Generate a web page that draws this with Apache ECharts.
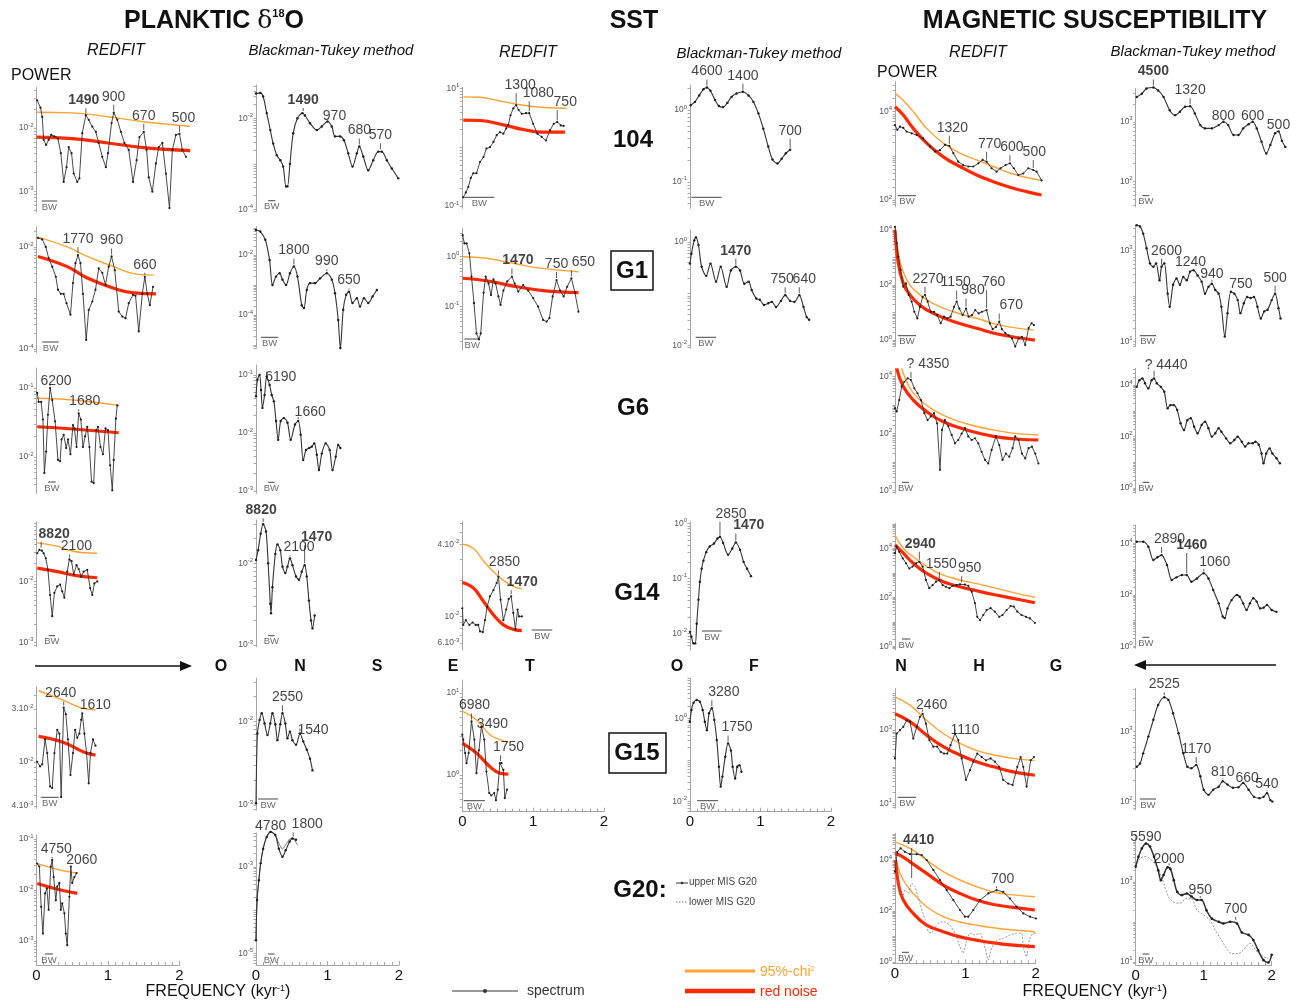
<!DOCTYPE html>
<html>
<head>
<meta charset="utf-8">
<script src="https://cdn.jsdelivr.net/npm/echarts@6/dist/echarts.min.js"></script>
<style>
html,body{margin:0;padding:0;background:#fff}
#chart{width:1308px;height:1001px}
</style>
</head>
<body>
<div id="chart"></div>
<script>
// ---------- spectra: [frequency (kyr^-1), power] ----------
// peaks: [frequency, power, period label, bold, tick length, label shift x, label shift y]
// ticks: labelled values on the power axis

// Planktic d18O, REDFIT
const pRf104 = {
  spec: [[0.01,2.75e-2],[0.056,2.1e-2],[0.08,1.5e-2],[0.10,6.5e-3],[0.135,5.4e-3],[0.17,6.5e-3],[0.205,7.8e-3],[0.25,7.4e-3],[0.30,6.8e-3],[0.34,4.0e-3],[0.38,1.4e-3],[0.42,2.4e-3],[0.45,5.0e-3],[0.49,4.0e-3],[0.52,1.9e-3],[0.57,1.4e-3],[0.60,1.6e-3],[0.64,8.3e-3],[0.69,1.6e-2],[0.73,1.35e-2],[0.78,1.05e-2],[0.83,8.7e-3],[0.87,5.8e-3],[0.92,3.5e-3],[0.97,2.4e-3],[1.00,4.0e-3],[1.05,1.2e-2],[1.08,1.75e-2],[1.13,1.35e-2],[1.18,8.7e-3],[1.23,5.8e-3],[1.29,4.5e-3],[1.35,1.4e-3],[1.40,3.1e-3],[1.44,7.2e-3],[1.50,8.7e-3],[1.54,4.5e-3],[1.57,1.65e-3],[1.62,9.8e-4],[1.67,2.75e-3],[1.71,5.0e-3],[1.76,5.8e-3],[1.81,1.9e-3],[1.86,5.4e-4],[1.90,4.5e-3],[1.95,7.8e-3],[2.00,8.1e-3],[2.04,4.5e-3],[2.09,3.5e-3]],
  chi: [[0,1.78e-2],[0.5,1.74e-2],[1,1.51e-2],[1.5,1.26e-2],[2.15,1.07e-2]],
  red: [[0,7.2e-3],[0.5,6.8e-3],[1,5.8e-3],[1.5,4.9e-3],[2.15,4.4e-3]],
  peaks: [[0.69,1.6e-2,'1490',1,5,-2],[1.08,1.75e-2,'900'],[1.50,8.7e-3,'670'],[2.00,8.1e-3,'500',0,6,4]],
  ticks: [1e-2,1e-3]
};
const pRfG1 = {
  spec: [[0.02,1.5e-2],[0.08,1.4e-2],[0.13,1.0e-2],[0.17,6.0e-3],[0.22,4.1e-3],[0.27,2.6e-3],[0.30,1.45e-3],[0.34,1.2e-3],[0.38,1.2e-3],[0.42,7.9e-4],[0.475,4.7e-4],[0.51,1.95e-3],[0.545,4.8e-3],[0.58,6.9e-3],[0.615,4.8e-3],[0.65,1.2e-3],[0.695,1.5e-4],[0.73,5.8e-4],[0.78,8.5e-4],[0.825,1.45e-3],[0.87,3.8e-3],[0.92,3.1e-3],[0.965,1.8e-3],[1.01,4.1e-3],[1.05,6.5e-3],[1.095,3.5e-3],[1.15,5.4e-4],[1.20,4.3e-4],[1.245,4.0e-4],[1.29,7.9e-4],[1.35,1.15e-3],[1.385,1.1e-3],[1.43,2.2e-4],[1.48,1.2e-3],[1.515,2.6e-3],[1.55,1.2e-3],[1.585,7.2e-4],[1.63,1.65e-3]],
  chi: [[0.02,1.55e-2],[0.43,1.0e-2],[0.71,6.5e-3],[1.08,4.1e-3],[1.36,3.0e-3],[1.64,2.8e-3]],
  red: [[0.02,6.5e-3],[0.43,4.1e-3],[0.71,2.45e-3],[1.08,1.55e-3],[1.36,1.25e-3],[1.67,1.2e-3]],
  peaks: [[0.58,6.9e-3,'1770'],[1.05,6.5e-3,'960'],[1.515,2.6e-3,'660',0,2]],
  ticks: [1e-2,1e-4]
};
const pRfG6 = {
  spec: [[0.01,8.5e-2],[0.03,6.3e-2],[0.065,6.3e-2],[0.09,3.5e-2],[0.11,5.9e-3],[0.135,1.2e-2],[0.16,4.1e-2],[0.19,1.0e-1],[0.22,6.7e-2],[0.26,3.3e-2],[0.30,9.1e-3],[0.33,8.7e-3],[0.35,1.8e-2],[0.38,2.1e-2],[0.415,1.35e-2],[0.44,1.8e-2],[0.475,1.1e-2],[0.51,2.9e-2],[0.53,2.6e-2],[0.56,1.4e-2],[0.59,4.3e-2],[0.62,3.5e-2],[0.65,1.4e-2],[0.68,2.0e-2],[0.71,2.75e-2],[0.74,1.4e-2],[0.77,4.4e-3],[0.80,4.2e-3],[0.835,2.45e-2],[0.86,2.75e-2],[0.895,1.4e-2],[0.93,1.1e-2],[0.965,2.6e-2],[1.00,2.45e-2],[1.03,7.6e-3],[1.06,3.3e-3],[1.08,9.1e-3],[1.11,3.6e-2],[1.13,5.6e-2]],
  chi: [[0.01,7.1e-2],[0.5,6.7e-2],[1.15,5.6e-2]],
  red: [[0.01,2.75e-2],[0.5,2.55e-2],[1.15,2.25e-2]],
  peaks: [[0.19,1.0e-1,'6200',0,2,6,5],[0.59,4.3e-2,'1680',0,2,6]],
  ticks: [1e-1,1e-2]
};
const pRfG14 = {
  spec: [[0.01,2.9e-2],[0.04,3.3e-2],[0.075,3.2e-2],[0.10,2.9e-2],[0.13,2.4e-2],[0.16,1.55e-2],[0.19,6.0e-3],[0.22,2.7e-3],[0.25,6.5e-3],[0.29,8.3e-3],[0.33,8.9e-3],[0.36,6.9e-3],[0.39,5.4e-3],[0.43,1.45e-2],[0.46,2.3e-2],[0.49,2.15e-2],[0.52,1.3e-2],[0.56,1.85e-2],[0.59,1.6e-2],[0.625,1.2e-2],[0.66,1.45e-2],[0.71,1.55e-2],[0.75,7.8e-3],[0.78,6.0e-3],[0.81,9.3e-3],[0.85,1.0e-2]],
  chi: [[0.01,4.3e-2],[0.29,3.8e-2],[0.43,3.3e-2],[0.66,2.95e-2],[0.85,2.9e-2]],
  red: [[0.01,1.65e-2],[0.29,1.45e-2],[0.56,1.25e-2],[0.85,1.15e-2]],
  peaks: [[0.065,3.3e-2,'8820',1,6,13],[0.46,2.3e-2,'2100',0,3,7]],
  ticks: [1e-1,1e-2,1e-3]
};
const pRfG15 = {
  spec: [[0.01,1.0e-2],[0.05,9.1e-3],[0.08,9.5e-3],[0.12,1.6e-2],[0.15,1.2e-2],[0.19,6.0e-3],[0.22,5.8e-3],[0.25,1.2e-2],[0.29,1.95e-2],[0.32,1.8e-2],[0.345,4.8e-3],[0.38,3.1e-2],[0.41,2.7e-2],[0.44,1.6e-2],[0.475,7.6e-3],[0.51,1.2e-2],[0.54,1.95e-2],[0.57,1.65e-2],[0.60,1.8e-2],[0.625,2.4e-2],[0.64,2.75e-2],[0.67,1.8e-2],[0.70,1.2e-2],[0.73,6.4e-3],[0.755,1.2e-2],[0.79,1.6e-2],[0.825,1.4e-2]],
  chi: [[0.03,4.4e-2],[0.38,3.6e-2],[0.615,3.1e-2],[0.825,2.95e-2]],
  red: [[0.03,1.7e-2],[0.38,1.5e-2],[0.66,1.23e-2],[0.825,1.15e-2]],
  peaks: [[0.38,3.1e-2,'2640',0,4,-3],[0.64,2.75e-2,'1610',0,0,13,2]],
  ticks: [5e-2,3e-2,1e-2,4e-3]
};
const pRfG20 = {
  spec: [[0.01,3.3e-2],[0.04,2.9e-2],[0.065,4.7e-3],[0.09,1.4e-3],[0.12,8.6e-3],[0.145,1.07e-2],[0.17,4.1e-3],[0.20,2.9e-2],[0.22,3.9e-2],[0.24,1.8e-2],[0.27,6.3e-3],[0.29,1.17e-2],[0.32,1.38e-2],[0.34,4.1e-3],[0.36,5.5e-3],[0.39,3.5e-3],[0.41,1.4e-3],[0.43,8.3e-4],[0.46,7.4e-3],[0.48,2.9e-2],[0.50,1.38e-2],[0.53,1.8e-2],[0.56,2.15e-2]],
  chi: [[0.01,3.3e-2],[0.34,2.45e-2],[0.57,2.15e-2]],
  red: [[0.01,1.35e-2],[0.34,1.0e-2],[0.57,8.6e-3]],
  peaks: [[0.22,3.9e-2,'4750',0,1,4],[0.48,2.9e-2,'2060',0,0,11,4]],
  ticks: [1e-1,1e-2,1e-3]
};

// Planktic d18O, Blackman-Tukey
const pBt104 = {
  spec: [[0,3.5e-2],[0.06,3.6e-2],[0.10,3.0e-2],[0.15,1.3e-2],[0.20,5.5e-3],[0.24,2.8e-3],[0.29,1.55e-3],[0.34,1.2e-3],[0.38,8.7e-4],[0.42,3.2e-4],[0.44,3.2e-4],[0.475,1.0e-3],[0.52,4.7e-3],[0.58,1.0e-2],[0.65,1.3e-2],[0.685,1.15e-2],[0.755,7.8e-3],[0.85,5.5e-3],[0.92,6.6e-3],[1.00,8.5e-3],[1.06,6.6e-3],[1.105,4.0e-3],[1.175,4.0e-3],[1.23,3.3e-3],[1.29,1.7e-3],[1.35,8.7e-4],[1.41,1.7e-3],[1.445,2.4e-3],[1.50,1.45e-3],[1.57,7.2e-4],[1.64,1.2e-3],[1.71,1.85e-3],[1.76,1.85e-3],[1.83,1.2e-3],[1.90,7.9e-4],[1.99,4.8e-4]],
  peaks: [[0.66,1.3e-2,'1490',1,3],[1.00,8.5e-3,'970',0,0,7,5],[1.445,2.4e-3,'680'],[1.74,1.9e-3,'570']],
  ticks: [1e-2,1e-4]
};
const pBtG1 = {
  spec: [[0,6.8e-2],[0.06,6.0e-2],[0.13,3.2e-2],[0.19,6.8e-3],[0.23,1.0e-3],[0.28,1.9e-3],[0.33,2.45e-3],[0.37,1.5e-3],[0.42,1.0e-3],[0.475,2.45e-3],[0.53,4.1e-3],[0.58,1.9e-3],[0.64,2.1e-4],[0.67,1.7e-4],[0.71,6.8e-4],[0.755,1.15e-3],[0.825,1.15e-3],[0.895,1.65e-3],[0.99,2.45e-3],[1.06,1.5e-3],[1.105,5.3e-4],[1.15,6.8e-5],[1.18,7.9e-6],[1.22,1.5e-4],[1.26,4.7e-4],[1.30,6.0e-4],[1.35,2.5e-4],[1.41,3.6e-4],[1.455,1.9e-4],[1.51,3.6e-4],[1.57,2.5e-4],[1.63,4.1e-4],[1.69,6.8e-4]],
  peaks: [[0.53,4.1e-3,'1800'],[0.99,2.45e-3,'990',0,2],[1.30,6.0e-4,'650',0,1]],
  ticks: [1e-2,1e-4]
};
const pBtG6 = {
  spec: [[0,4.3e-2],[0.02,8.2e-2],[0.05,1.0e-1],[0.07,5.5e-2],[0.09,2.7e-2],[0.12,4.5e-2],[0.15,9.3e-2],[0.19,6.7e-2],[0.22,4.5e-2],[0.25,3.5e-2],[0.28,1.6e-2],[0.31,7.6e-3],[0.345,1.6e-2],[0.39,1.8e-2],[0.44,1.5e-2],[0.485,7.6e-3],[0.545,1.4e-2],[0.59,1.6e-2],[0.625,9.3e-3],[0.66,3.4e-3],[0.70,5.1e-3],[0.745,5.5e-3],[0.78,5.8e-3],[0.815,6.6e-3],[0.85,4.2e-3],[0.88,2.3e-3],[0.92,4.4e-3],[0.975,6.6e-3],[1.03,5.1e-3],[1.07,2.3e-3],[1.115,3.9e-3],[1.15,6.2e-3],[1.18,5.5e-3]],
  peaks: [[0.15,9.3e-2,'6190',0,3,14,13],[0.59,1.6e-2,'1660',0,2,12,3]],
  ticks: [1e-1,1e-2,1e-3]
};
const pBtG14 = {
  spec: [[0,1.1e-2],[0.03,1.45e-2],[0.065,2.3e-2],[0.10,3.0e-2],[0.14,2.45e-2],[0.17,1.0e-2],[0.20,3.2e-3],[0.21,2.45e-3],[0.23,5.1e-3],[0.27,1.3e-2],[0.30,1.7e-2],[0.34,1.45e-2],[0.37,9.1e-3],[0.41,7.6e-3],[0.44,9.1e-3],[0.475,1.15e-2],[0.51,9.5e-3],[0.56,6.9e-3],[0.60,6.3e-3],[0.64,7.9e-3],[0.68,9.5e-3],[0.71,6.9e-3],[0.74,3.5e-3],[0.77,2.0e-3],[0.79,1.6e-3],[0.82,2.3e-3]],
  peaks: [[0.10,3.0e-2,'8820',1,4,-2],[0.475,1.15e-2,'2100',0,1,9],[0.68,9.5e-3,'1470',1,18,12]],
  ticks: [1e-2,1e-3]
};
const pBtG15 = {
  spec: [[0,1.05e-3],[0.02,7.2e-3],[0.05,1.05e-2],[0.08,1.26e-2],[0.12,9.5e-3],[0.16,6.9e-3],[0.20,9.5e-3],[0.23,1.26e-2],[0.27,9.3e-3],[0.30,6.0e-3],[0.34,9.3e-3],[0.37,1.26e-2],[0.41,9.5e-3],[0.44,6.3e-3],[0.475,7.6e-3],[0.51,6.0e-3],[0.56,5.3e-3],[0.615,7.2e-3],[0.66,5.8e-3],[0.71,4.6e-3],[0.755,3.6e-3],[0.79,2.6e-3]],
  peaks: [[0.37,1.26e-2,'2550',0,6,5],[0.615,7.2e-3,'1540',0,3,13,10]],
  ticks: [1e-2,1e-3]
};
const pBtG20 = {
  spec: [[0,2.0e-5],[0.015,1.7e-4],[0.04,4.9e-4],[0.065,1.2e-3],[0.10,2.6e-3],[0.15,4.9e-3],[0.205,6.4e-3],[0.27,5.4e-3],[0.32,2.6e-3],[0.37,1.7e-3],[0.415,2.4e-3],[0.47,3.8e-3],[0.51,4.5e-3],[0.56,4.2e-3]],
  lower: [[0,2.0e-5],[0.015,1.7e-4],[0.04,4.9e-4],[0.065,1.2e-3],[0.10,2.6e-3],[0.15,4.9e-3],[0.205,6.4e-3],[0.27,5.4e-3],[0.32,3.5e-3],[0.37,2.6e-3],[0.43,3.5e-3],[0.485,4.5e-3],[0.53,4.3e-3],[0.58,3.2e-3]],
  peaks: [[0.205,6.4e-3,'4780',0,0,0,4],[0.52,4.5e-3,'1800',0,4,14]],
  ticks: [1e-3,1e-5]
};

// SST, REDFIT
const sRf104 = {
  spec: [[0.014,0.14],[0.05,0.17],[0.085,0.21],[0.12,0.30],[0.155,0.36],[0.20,0.36],[0.25,0.56],[0.30,0.68],[0.34,0.95],[0.39,1.0],[0.44,1.23],[0.485,1.6],[0.53,1.8],[0.58,1.7],[0.62,2.1],[0.65,2.4],[0.68,3.5],[0.72,4.6],[0.76,5.2],[0.795,4.3],[0.84,3.7],[0.90,3.8],[0.945,3.8],[1.00,2.5],[1.06,1.7],[1.12,1.5],[1.18,1.3],[1.24,1.95],[1.29,2.5],[1.34,2.7],[1.39,2.35],[1.43,2.3]],
  chi: [[0.014,7.2],[0.25,7.1],[0.48,6.3],[0.77,5.4],[1.10,4.8],[1.47,4.6]],
  red: [[0.014,2.9],[0.25,2.85],[0.58,2.4],[0.86,2.0],[1.14,1.8],[1.45,1.8]],
  peaks: [[0.76,5.2,'1300',0,10,4],[0.945,3.8,'1080',0,10,9],[1.34,2.7,'750',0,10,8]],
  ticks: [10,0.1]
};
const sRfG1 = {
  spec: [[0.005,2.7],[0.03,1.85],[0.06,1.85],[0.10,1.17],[0.13,0.40],[0.165,0.117],[0.20,0.029],[0.235,0.022],[0.26,0.029],[0.30,0.19],[0.33,0.40],[0.37,0.29],[0.405,0.17],[0.44,0.35],[0.47,0.29],[0.51,0.16],[0.54,0.108],[0.58,0.21],[0.635,0.32],[0.70,0.40],[0.74,0.29],[0.79,0.20],[0.86,0.27],[0.93,0.21],[1.00,0.148],[1.07,0.10],[1.14,0.054],[1.19,0.050],[1.23,0.059],[1.275,0.16],[1.33,0.34],[1.38,0.21],[1.43,0.16],[1.48,0.25],[1.54,0.37],[1.59,0.19],[1.64,0.079]],
  chi: [[0.005,1.0],[0.34,0.93],[0.72,0.74],[1.10,0.59],[1.64,0.50]],
  red: [[0.005,0.37],[0.34,0.33],[0.77,0.25],[1.14,0.21],[1.64,0.19]],
  peaks: [[0.70,0.40,'1470',1,6,6],[1.33,0.34,'750'],[1.54,0.37,'650',0,6,12]],
  ticks: [1,0.1]
};
const sRfG14 = {
  spec: [[0,1.17e-2],[0.014,8.5e-3],[0.05,9.3e-3],[0.10,8.5e-3],[0.145,8.9e-3],[0.19,8.5e-3],[0.225,8.5e-3],[0.25,7.5e-3],[0.29,7.4e-3],[0.32,9.3e-3],[0.35,1.2e-2],[0.39,1.47e-2],[0.44,1.66e-2],[0.485,1.9e-2],[0.51,2.15e-2],[0.54,1.38e-2],[0.58,9.3e-3],[0.62,1.14e-2],[0.655,1.4e-2],[0.69,1.47e-2],[0.72,1.07e-2],[0.75,7.8e-3],[0.78,1.14e-2],[0.80,1.0e-2],[0.84,1.0e-2]],
  chi: [[0,4.0e-2],[0.155,3.7e-2],[0.30,2.9e-2],[0.44,2.36e-2],[0.58,2.0e-2],[0.72,1.78e-2],[0.84,1.7e-2]],
  red: [[0,1.92e-2],[0.155,1.73e-2],[0.30,1.33e-2],[0.44,1.03e-2],[0.58,8.5e-3],[0.72,7.8e-3],[0.84,7.6e-3]],
  peaks: [[0.51,2.15e-2,'2850',0,4,6],[0.69,1.47e-2,'1470',1,4,11]],
  ticks: [4e-2,1e-2,6e-3]
};
const sRfG15 = {
  spec: [[0,3.1],[0.014,2.7],[0.04,1.85],[0.06,1.39],[0.09,1.85],[0.13,4.5],[0.17,2.7],[0.20,1.05],[0.235,2.0],[0.27,3.9],[0.31,2.7],[0.34,1.1],[0.38,0.60],[0.41,0.56],[0.45,0.60],[0.475,0.49],[0.50,0.66],[0.53,1.39],[0.555,1.39],[0.58,1.15],[0.60,0.52],[0.63,0.66]],
  chi: [[0,6.0],[0.20,4.7],[0.39,3.1],[0.53,2.7],[0.65,2.5]],
  red: [[0,2.45],[0.20,1.85],[0.39,1.26],[0.53,1.05],[0.65,1.02]],
  peaks: [[0.13,4.5,'6980',0,6,3],[0.27,3.9,'3490',0,0,11,8],[0.54,1.39,'1750',0,6,8]],
  ticks: [10,1]
};

// SST, Blackman-Tukey
const sBt104 = {
  spec: [[0.01,1.17],[0.07,1.3],[0.13,1.6],[0.19,1.95],[0.24,2.07],[0.29,1.86],[0.355,1.38],[0.41,1.14],[0.47,1.1],[0.53,1.26],[0.59,1.53],[0.66,1.7],[0.75,1.8],[0.83,1.6],[0.90,1.3],[0.97,0.9],[1.04,0.55],[1.11,0.31],[1.17,0.205],[1.24,0.18],[1.30,0.21],[1.36,0.25],[1.42,0.28]],
  peaks: [[0.24,2.07,'4600'],[0.75,1.8,'1400'],[1.42,0.28,'700',0,9,0]],
  ticks: [1,0.1]
};
const sBtG1 = {
  spec: [[0,0.38],[0.02,0.59],[0.06,1.07],[0.085,1.22],[0.12,0.87],[0.165,0.33],[0.23,0.22],[0.29,0.38],[0.37,0.17],[0.435,0.33],[0.52,0.135],[0.58,0.28],[0.65,0.33],[0.71,0.28],[0.77,0.155],[0.83,0.17],[0.875,0.117],[0.94,0.08],[0.99,0.076],[1.05,0.06],[1.11,0.065],[1.16,0.069],[1.22,0.055],[1.29,0.072],[1.35,0.093],[1.42,0.072],[1.48,0.069],[1.55,0.093],[1.61,0.055],[1.655,0.035],[1.69,0.031]],
  peaks: [[0.65,0.33,'1470',1],[1.35,0.093,'750',0,6,-3],[1.55,0.093,'640',0,6,5]],
  ticks: [1,1e-2]
};
const sBtG14 = {
  spec: [[0,1.07e-2],[0.02,8.7e-3],[0.05,6.6e-3],[0.075,6.6e-3],[0.095,1.5e-2],[0.12,4.1e-2],[0.14,8.7e-2],[0.165,0.15],[0.19,0.21],[0.23,0.30],[0.28,0.38],[0.34,0.43],[0.39,0.53],[0.425,0.57],[0.47,0.44],[0.54,0.27],[0.60,0.35],[0.65,0.45],[0.71,0.33],[0.76,0.20],[0.81,0.15],[0.865,0.11]],
  peaks: [[0.425,0.57,'2850',0,13,11],[0.65,0.45,'1470',1,7,13]],
  ticks: [1,0.1,1e-2]
};
const sBtG15 = {
  spec: [[0,0.83],[0.02,1.58],[0.05,2.35],[0.095,2.75],[0.14,2.5],[0.18,1.58],[0.21,0.83],[0.24,0.52],[0.27,1.32],[0.31,1.74],[0.345,0.91],[0.38,0.30],[0.41,0.069],[0.435,0.023],[0.46,0.040],[0.50,0.12],[0.54,0.25],[0.58,0.17],[0.605,0.069],[0.64,0.036],[0.67,0.069],[0.70,0.075],[0.73,0.052]],
  peaks: [[0.31,1.74,'3280',0,6,12],[0.54,0.25,'1750',0,6,9]],
  ticks: [1,1e-2]
};

// Magnetic susceptibility, REDFIT
const mRf104 = {
  spec: [[0,5000],[0.033,3900],[0.07,4600],[0.118,4300],[0.166,3550],[0.237,3250],[0.31,2950],[0.40,2500],[0.50,1620],[0.57,1250],[0.64,1350],[0.71,1780],[0.773,1700],[0.83,1150],[0.90,740],[0.97,620],[1.043,575],[1.114,575],[1.185,680],[1.246,810],[1.303,740],[1.374,525],[1.445,440],[1.50,525],[1.573,620],[1.635,680],[1.69,525],[1.754,370],[1.825,400],[1.896,525],[1.967,480],[2.014,440],[2.085,280]],
  chi: [[0,26000],[0.118,18000],[0.26,10000],[0.45,4200],[0.687,1950],[0.924,1150],[1.16,810],[1.40,575],[1.635,410],[1.87,325],[2.085,280]],
  red: [[0,13000],[0.118,8400],[0.26,4200],[0.45,1950],[0.687,950],[0.924,575],[1.16,370],[1.40,260],[1.635,195],[1.87,155],[2.085,130]],
  peaks: [[0.773,1700,'1320',0,8,3],[1.303,740,'770',0,8,3],[1.635,680,'600',0,6,2],[1.967,480,'500',0,8,1]],
  ticks: [1e4,1e2]
};
const mRfG1 = {
  spec: [[0,13000],[0.024,3300],[0.047,1070],[0.08,355],[0.118,87],[0.156,115],[0.194,44],[0.237,25],[0.275,10.7],[0.318,6.2],[0.355,16],[0.393,37],[0.427,44],[0.464,25],[0.507,10.7],[0.555,10.7],[0.60,8.1],[0.65,4.1],[0.697,7.1],[0.744,6.2],[0.79,7.1],[0.84,16],[0.877,25],[0.915,14],[0.962,8.1],[1.01,14],[1.047,7.1],[1.095,8.1],[1.142,12.3],[1.19,9.3],[1.237,10.7],[1.303,12.3],[1.35,4.0],[1.389,2.5],[1.436,3.0],[1.483,4.7],[1.52,2.5],[1.569,1.8],[1.616,1.5],[1.664,1.15],[1.71,0.58],[1.758,1.15],[1.806,1.3],[1.853,0.66],[1.90,2.7],[1.943,4.1],[1.976,3.5]],
  chi: [[0,13000],[0.047,1400],[0.118,300],[0.213,100],[0.355,44],[0.545,21],[0.83,10.7],[1.16,6.2],[1.49,3.5],[1.97,2.3]],
  red: [[0,10000],[0.047,620],[0.118,115],[0.213,44],[0.355,18.6],[0.545,9.3],[0.83,4.7],[1.16,2.7],[1.49,1.6],[1.99,1.0]],
  peaks: [[0.427,44,'2270',0,6,3],[0.877,25,'1150',0,9,-1],[1.01,14,'980',0,8,7],[1.303,12.3,'760',0,18,7],[1.483,4.7,'670',0,6,12]],
  ticks: [1e4,1e2,1]
};
const mRfG6 = {
  spec: [[0,780],[0.024,600],[0.06,1500],[0.095,4500],[0.133,6600],[0.18,8700],[0.227,7600],[0.275,3900],[0.32,2600],[0.37,1500],[0.417,520],[0.464,300],[0.51,400],[0.555,520],[0.60,230],[0.64,5.4],[0.668,135],[0.71,300],[0.758,180],[0.806,90],[0.853,46],[0.90,60],[0.948,100],[0.995,155],[1.043,80],[1.09,60],[1.137,69],[1.185,46],[1.232,23],[1.28,12],[1.327,9],[1.374,27],[1.436,80],[1.483,40],[1.53,12],[1.578,20],[1.626,15.5],[1.673,31],[1.71,80],[1.758,60],[1.806,20],[1.853,13.5],[1.90,31],[1.948,35],[1.995,20],[2.04,9]],
  chi: [[0.095,19500],[0.213,3900],[0.355,1500],[0.545,680],[0.78,350],[1.066,205],[1.40,135],[1.73,100],[2.04,90]],
  red: [[0.024,19500],[0.118,4500],[0.26,1500],[0.45,590],[0.687,260],[1.02,135],[1.40,80],[1.73,65],[2.04,60]],
  peaks: [[0.227,7600,'? 4350',0,6,17]],
  ticks: [1e4,1e2,1]
};
const mRfG14 = {
  spec: [[0,6300],[0.024,11700],[0.06,7200],[0.11,3900],[0.156,2450],[0.204,1500],[0.25,1800],[0.30,2450],[0.346,2800],[0.393,1800],[0.44,510],[0.488,235],[0.535,315],[0.583,435],[0.63,510],[0.678,315],[0.725,270],[0.773,235],[0.82,295],[0.877,315],[0.924,340],[0.995,330],[1.043,295],[1.09,170],[1.137,58],[1.17,16],[1.21,11.7],[1.256,19],[1.303,30],[1.36,36],[1.42,26],[1.483,16],[1.53,19],[1.588,30],[1.645,44],[1.69,42],[1.74,26],[1.80,19],[1.863,16],[1.92,13.8],[1.99,9.1]],
  chi: [[0,35000],[0.118,10000],[0.26,4500],[0.355,2800],[0.50,1500],[0.64,900],[0.83,600],[1.02,435],[1.256,315],[1.49,215],[1.73,145],[1.99,100]],
  red: [[0,13800],[0.118,6300],[0.26,2450],[0.45,950],[0.687,435],[0.924,270],[1.16,185],[1.40,130],[1.68,91],[1.99,60]],
  peaks: [[0.346,2800,'2940',1,8,1],[0.63,510,'1550',0,6,2],[0.948,340,'950',0,6,8]],
  ticks: [1e4,1e2,1]
};
const mRfG15 = {
  spec: [[0,170],[0.024,810],[0.07,1000],[0.118,1230],[0.166,1860],[0.213,1700],[0.26,590],[0.31,1230],[0.355,2300],[0.393,2800],[0.44,1500],[0.488,535],[0.545,355],[0.60,355],[0.65,255],[0.697,230],[0.744,230],[0.79,390],[0.853,810],[0.90,535],[0.948,170],[1.01,44],[1.066,81],[1.114,138],[1.17,230],[1.232,185],[1.294,150],[1.36,170],[1.42,138],[1.483,100],[1.54,44],[1.61,35],[1.673,32],[1.74,100],[1.787,185],[1.825,100],[1.872,29],[1.93,150],[1.976,185]],
  chi: [[0,8100],[0.213,4800],[0.45,1860],[0.687,810],[0.924,435],[1.16,280],[1.40,210],[1.68,170],[1.99,150]],
  red: [[0,2800],[0.213,1700],[0.45,730],[0.687,355],[0.924,210],[1.16,138],[1.40,100],[1.68,73],[1.99,59]],
  peaks: [[0.393,2800,'2460',0,2,9,3],[0.853,810,'1110',0,2,10,9]],
  ticks: [1e3,1e1]
};
const mRfG20 = {
  spec: [[0,3500],[0.033,21000],[0.08,29000],[0.14,21000],[0.213,17000],[0.31,17000],[0.38,15800],[0.45,10000],[0.545,4100],[0.64,1650],[0.735,660],[0.83,270],[0.924,110],[0.995,60],[1.043,60],[1.114,110],[1.21,270],[1.327,490],[1.445,660],[1.54,560],[1.635,310],[1.73,148],[1.825,81],[1.92,60],[2.005,51]],
  lower: [[0,18000],[0.033,4100],[0.07,660],[0.11,365],[0.14,660],[0.19,490],[0.237,1230],[0.284,910],[0.355,200],[0.427,45],[0.474,15.5],[0.52,13.5],[0.57,24],[0.64,37],[0.71,37],[0.78,28],[0.853,13.5],[0.924,4],[0.97,2.2],[1.02,7.2],[1.066,13.5],[1.137,11.5],[1.21,13.5],[1.265,5.4],[1.327,1.2],[1.374,3.5],[1.445,7.2],[1.54,8.5],[1.635,11.5],[1.73,13.5],[1.80,13.5],[1.834,3],[1.872,1.6],[1.91,7.2],[1.967,13.5],[2.005,13.5]],
  chi: [[0,52000],[0.213,29000],[0.45,10000],[0.687,3500],[0.924,1650],[1.16,910],[1.40,560],[1.68,430],[1.99,365]],
  red: [[0,18000],[0.1,14000],[0.213,8500],[0.45,3000],[0.687,1050],[0.924,490],[1.16,270],[1.40,180],[1.68,140],[1.99,110]],
  chiLower: [[0.024,7400],[0.118,1650],[0.26,490],[0.45,148],[0.687,60],[0.924,37],[1.16,28],[1.40,22],[1.68,18],[1.99,15.5]],
  redLower: [[0.01,10000],[0.047,1230],[0.118,270],[0.26,81],[0.45,28],[0.687,15.5],[0.924,9.7],[1.16,7.2],[1.40,5.6],[1.68,4.6],[1.99,4.0]],
  peaks: [[0.237,1650,'4410',1,30,7],[1.445,660,'700',0,2,6,1]],
  ticks: [1e4,1e2,1]
};

// Magnetic susceptibility, Blackman-Tukey
const mBt104 = {
  spec: [[0.015,2600],[0.09,2950],[0.16,3600],[0.26,3750],[0.33,3350],[0.41,2600],[0.50,1560],[0.58,1290],[0.65,1470],[0.725,1780],[0.80,1820],[0.87,1380],[0.95,880],[1.02,775],[1.12,775],[1.22,880],[1.29,1000],[1.36,880],[1.44,600],[1.51,600],[1.58,775],[1.66,910],[1.72,1000],[1.78,775],[1.85,465],[1.92,295],[1.98,410],[2.05,645],[2.10,690],[2.15,480],[2.20,380]],
  peaks: [[0.26,3750,'4500',1],[0.80,1820,'1320'],[1.29,1000,'800',0,0,0,4],[1.72,1000,'600',0,0,0,4],[2.10,690,'500',0,0,0,4]],
  ticks: [1e3,1e2]
};
const mBtG1 = {
  spec: [[0.015,3500],[0.064,3300],[0.11,2300],[0.16,1100],[0.21,515],[0.26,435],[0.30,515],[0.35,220],[0.38,435],[0.42,515],[0.47,112],[0.50,58],[0.55,175],[0.60,240],[0.65,175],[0.70,260],[0.75,220],[0.80,340],[0.85,365],[0.91,280],[0.97,205],[1.02,112],[1.07,158],[1.12,185],[1.17,135],[1.22,112],[1.26,58],[1.31,13],[1.35,42],[1.40,123],[1.45,112],[1.50,81],[1.54,42],[1.59,69],[1.64,95],[1.69,90],[1.74,95],[1.79,58],[1.84,32],[1.89,46],[1.94,50],[2.00,81],[2.05,112],[2.10,54],[2.13,32]],
  peaks: [[0.38,435,'2600',0,6,5],[0.85,365,'1240',0,0,-3,2],[1.12,185,'940',0,2,0,2],[1.40,123,'750',0,0,10,2],[2.05,112,'500']],
  ticks: [1e3,1e1]
};
const mBtG6 = {
  spec: [[0.015,8500],[0.054,15500],[0.098,18000],[0.137,11700],[0.186,7400],[0.235,15500],[0.27,18000],[0.31,11700],[0.37,8500],[0.42,5500],[0.47,1250],[0.51,1670],[0.56,1670],[0.61,1070],[0.66,330],[0.71,180],[0.76,435],[0.81,515],[0.86,240],[0.91,135],[0.97,280],[1.02,380],[1.07,210],[1.12,100],[1.17,135],[1.22,210],[1.26,155],[1.33,85],[1.39,55],[1.45,74],[1.50,100],[1.56,63],[1.61,41],[1.66,55],[1.72,55],[1.76,63],[1.81,48],[1.85,22],[1.88,9.3],[1.92,22],[1.97,35],[2.01,22],[2.07,14.5],[2.12,9.3]],
  peaks: [[0.27,18000,'? 4440',0,6,12,3]],
  ticks: [1e4,1e2,1]
};
const mBtG14 = {
  spec: [[0.015,11500],[0.11,11500],[0.186,7400],[0.26,2250],[0.32,2900],[0.38,3500],[0.46,1450],[0.53,380],[0.60,480],[0.68,590],[0.75,590],[0.82,325],[0.90,435],[1.00,690],[1.07,435],[1.14,155],[1.22,47],[1.28,14.5],[1.31,12.6],[1.35,30],[1.41,63],[1.49,100],[1.53,85],[1.58,47],[1.63,26],[1.68,47],[1.73,74],[1.78,55],[1.83,30],[1.88,32],[1.93,41],[2.00,26],[2.07,22]],
  peaks: [[0.38,3500,'2890',0,6,8],[0.75,590,'1460',1,20,5],[1.00,690,'1060',0,2,11,1]],
  ticks: [1e4,1e2,1]
};
const mBtG15 = {
  spec: [[0.015,315],[0.064,350],[0.11,490],[0.186,850],[0.26,1480],[0.33,2400],[0.42,3100],[0.48,2850],[0.55,1830],[0.63,950],[0.70,490],[0.76,315],[0.82,300],[0.89,335],[0.95,230],[1.00,148],[1.07,125],[1.14,148],[1.22,163],[1.28,195],[1.35,175],[1.43,158],[1.51,160],[1.58,185],[1.66,148],[1.74,117],[1.82,112],[1.88,117],[1.93,132],[1.98,105],[2.01,100]],
  peaks: [[0.42,3100,'2525',0,3],[0.89,335,'1170'],[1.28,195,'810',0,1,0,2],[1.58,185,'660',0,0,4,5],[1.93,132,'540',0,1,0,2]],
  ticks: [1e3,1e2]
};
const mBtG20 = {
  spec: [[0,2400],[0.04,4200],[0.09,6800],[0.15,9100],[0.21,7600],[0.27,4200],[0.33,1950],[0.37,1100],[0.41,1480],[0.47,2300],[0.51,2100],[0.56,1100],[0.61,560],[0.68,465],[0.75,510],[0.82,430],[0.90,350],[0.97,350],[1.04,195],[1.12,120],[1.22,100],[1.29,91],[1.39,100],[1.49,91],[1.56,54],[1.66,47],[1.73,35],[1.80,19.5],[1.88,11],[1.95,9.6],[2.00,15]],
  lower: [[0,2400],[0.064,3800],[0.137,4300],[0.21,3800],[0.31,2400],[0.38,1340],[0.48,425],[0.55,315],[0.65,290],[0.75,390],[0.82,390],[0.90,195],[1.00,148],[1.09,110],[1.17,62],[1.26,35],[1.34,21],[1.41,16],[1.51,16],[1.58,19.5],[1.68,29],[1.78,18],[1.88,13.5],[1.95,12]],
  peaks: [[0.15,9100,'5590',0,0,0,4],[0.49,2300,'2000',0,2,0,4],[0.95,350,'950',0,2,0,2],[1.47,100,'700',0,3]],
  ticks: [1e3,1e1]
};

// ---------- panel layout (pixels) and power range (log10) ----------
const C1 = 36.5, C2 = 256, C3 = 462.3, C4 = 690, C5 = 895, C6 = 1135.7;
const frames = [
  {d:pRf104, left:C1, width:143, top:87,    bottom:212,   lo:-3.33, hi:-1.35, bw:[0.07,0.29]},
  {d:pRfG1,  left:C1, width:143, top:227,   bottom:353,   lo:-4.08, hi:-1.61, bw:[0.08,0.31]},
  {d:pRfG6,  left:C1, width:143, top:368,   bottom:493,   lo:-2.52, hi:-0.71, bw:[0.16,0.27]},
  {d:pRfG14, left:C1, width:143, top:521.7, bottom:646.7, lo:-3.07, hi:-1.02, bw:[0.17,0.26]},
  {d:pRfG15, left:C1, width:143, top:686.7, bottom:808.3, lo:-2.42, hi:-1.32, bw:[0.06,0.31]},
  {d:pRfG20, left:C1, width:143, top:835,   bottom:965,   lo:-3.47, hi:-0.92, bw:[0.12,0.23], axis:true},

  {d:pBt104, left:C2, width:143, top:85,    bottom:211.7, lo:-4.05, hi:-1.27, bw:[0.17,0.27], bt:true},
  {d:pBtG1,  left:C2, width:143, top:226.7, bottom:348.3, lo:-5.11, hi:-1.06, bw:[0.07,0.31], bt:true},
  {d:pBtG6,  left:C2, width:143, top:365,   bottom:493.3, lo:-3.04, hi:-0.83, bw:[0.17,0.26], bt:true},
  {d:pBtG14, left:C2, width:143, top:520,   bottom:646.7, lo:-3.02, hi:-1.47, bw:[0.17,0.26], bt:true},
  {d:pBtG15, left:C2, width:143, top:678.3, bottom:810,   lo:-3.06, hi:-1.48, bw:[0.03,0.31], bt:true},
  {d:pBtG20, left:C2, width:143, top:833,   bottom:965,   lo:-5.27, hi:-2.22, bw:[0.17,0.26], bt:true, axis:true, lowerStyle:'solid'},

  {d:sRf104, left:C3, width:141.7, top:87.3,  bottom:208.3, lo:-1.04, hi:1.02,  bw:[0.03,0.45]},
  {d:sRfG1,  left:C3, width:141.7, top:228.3, bottom:350,   lo:-1.87, hi:0.57,  bw:[0.03,0.25]},
  {d:sRfG14, left:C3, width:141.7, top:521.7, bottom:650,   lo:-2.28, hi:-1.21, bw:[0.98,1.27], bwY:20},
  {d:sRfG15, left:C3, width:141.7, top:680,   bottom:811.7, lo:-0.45, hi:1.16,  bw:[0.02,0.32], axis:true},

  {d:sBt104, left:C4, width:141, top:85,    bottom:208.3, lo:-1.37, hi:0.35, bw:[0.02,0.45], bt:true},
  {d:sBtG1,  left:C4, width:141, top:230,   bottom:348.3, lo:-2.06, hi:0.23, bw:[0.08,0.37], bt:true},
  {d:sBtG14, left:C4, width:141, top:521.7, bottom:650,   lo:-2.30, hi:0.03, bw:[0.17,0.45], bwY:19, bt:true},
  {d:sBtG15, left:C4, width:141, top:678.3, bottom:811.7, lo:-2.24, hi:0.96, bw:[0.10,0.40], bt:true, axis:true},

  {d:mRf104, left:C5, width:140.6, top:81.7,  bottom:206.7, lo:1.85,  hi:4.68, bw:[0.04,0.30]},
  {d:mRfG1,  left:C5, width:140.6, top:226.7, bottom:346.7, lo:-0.24, hi:4.12, bw:[0.04,0.30]},
  {d:mRfG6,  left:C5, width:140.6, top:368.3, bottom:493.3, lo:-0.09, hi:4.29, bw:[0.10,0.20]},
  {d:mRfG14, left:C5, width:140.6, top:523.3, bottom:650,   lo:-0.15, hi:5.02, bw:[0.10,0.22]},
  {d:mRfG15, left:C5, width:140.6, top:688.3, bottom:808.3, lo:0.87,  hi:4.14, bw:[0.04,0.30]},
  {d:mRfG20, left:C5, width:140.6, top:833.3, bottom:963.3, lo:-0.05, hi:5.05, bw:[0.10,0.20], axis:true, lowerStyle:'dotted'},

  {d:mBt104, left:C6, width:136, top:88.3,  bottom:206.7, lo:1.58,  hi:3.56, bw:[0.10,0.20], bt:true},
  {d:mBtG1,  left:C6, width:136, top:225,   bottom:346.7, lo:0.89,  hi:3.55, bw:[0.06,0.30], bt:true},
  {d:mBtG6,  left:C6, width:136, top:368.3, bottom:493.3, lo:-0.20, hi:4.65, bw:[0.10,0.20], bt:true},
  {d:mBtG14, left:C6, width:136, top:525,   bottom:648.3, lo:-0.07, hi:4.71, bw:[0.10,0.20], bt:true},
  {d:mBtG15, left:C6, width:136, top:688.3, bottom:810,   lo:1.88,  hi:3.62, bw:[0.06,0.30], bt:true},
  {d:mBtG20, left:C6, width:136, top:835,   bottom:965,   lo:0.92,  hi:4.17, bw:[0.10,0.20], bt:true, axis:true, lowerStyle:'dotted', thick:true}
];

// ---------- styling ----------
const FONT = '"Liberation Sans", Arial, Helvetica, sans-serif';
const ORANGE = '#ffa233';
const RED = '#ff2800';
const INK = '#333333';
const AXIS = '#a6a6a6';
// panels without a drawn frequency axis run a little past 2 kyr^-1
const XMAX_OPEN = 2.3;

// minor ticks of a decade axis: 1..9 x 10^n inside the range
function decadeTicks(lo, hi) {
  const out = [];
  for (let n = Math.floor(lo); n <= Math.ceil(hi); n++) {
    for (let k = 1; k <= 9; k++) {
      const v = k * Math.pow(10, n);
      const l = Math.log10(v);
      if (l >= lo - 1e-9 && l <= hi + 1e-9) out.push(Number(v.toPrecision(3)));
    }
  }
  return out;
}
// 0.01 -> 10^-2, 0.04 -> 4.10^-2
function powLabel(v) {
  const e = Math.floor(Math.log10(v) + 1e-6);
  const m = Math.round(v / Math.pow(10, e));
  return '{a|' + (m === 1 ? '' : m + '.') + '10}{e|' + e + '}';
}

const grid = [], xAxis = [], yAxis = [], series = [];
frames.forEach((f, i) => {
  const d = f.d;
  const h = f.bottom - f.top;
  const xmax = f.axis ? 2 : XMAX_OPEN;
  grid.push({left: f.left, top: f.top, width: f.width * xmax / 2, height: h});
  xAxis.push({
    gridIndex: i, type: 'value', min: 0, max: xmax, interval: 1, show: !!f.axis,
    axisLine: {show: true, lineStyle: {color: AXIS, width: 1}},
    axisTick: {show: true, inside: true, length: 4, lineStyle: {color: AXIS}},
    minorTick: {show: true, splitNumber: 10, length: 3, lineStyle: {color: AXIS}},
    axisLabel: {fontSize: 15, color: '#111', margin: 3, fontFamily: FONT},
    splitLine: {show: false}
  });
  yAxis.push({
    gridIndex: i, type: 'log', logBase: 10,
    min: Math.pow(10, f.lo), max: Math.pow(10, f.hi),
    axisLine: {show: true, lineStyle: {color: AXIS, width: 1}},
    axisTick: {show: true, length: 2.5, customValues: decadeTicks(f.lo, f.hi), lineStyle: {color: AXIS}},
    axisLabel: {
      show: true, margin: 3, customValues: d.ticks, formatter: powLabel,
      rich: {
        a: {fontSize: 8.5, color: '#555', fontFamily: FONT, lineHeight: 12},
        e: {fontSize: 6, color: '#555', fontFamily: FONT, verticalAlign: 'top', lineHeight: 12}
      }
    },
    splitLine: {show: false}, minorSplitLine: {show: false}
  });
  const base = {xAxisIndex: i, yAxisIndex: i, silent: true, animation: false, clip: false};

  // 95% chi2 level and red-noise background
  [['chi', ORANGE, 1.4], ['chiLower', ORANGE, 1.4], ['red', RED, 3.2], ['redLower', RED, 3.2]].forEach(([k, c, w]) => {
    if (!d[k]) return;
    series.push(Object.assign({}, base, {
      type: 'line', data: d[k], smooth: 0.45, symbol: 'none',
      lineStyle: {color: c, width: w}, z: 2
    }));
  });
  // second spectrum (lower MIS G20)
  if (d.lower) {
    series.push(Object.assign({}, base, {
      type: 'line', data: d.lower, smooth: f.bt ? 0.3 : 0.15, symbol: 'none',
      lineStyle: {color: f.lowerStyle === 'dotted' ? '#7a7a7a' : '#555', width: 0.8,
                  type: f.lowerStyle === 'dotted' ? [2, 1.5] : 'solid'},
      z: 3
    }));
  }
  // spectrum
  series.push(Object.assign({}, base, {
    type: 'line', data: d.spec, smooth: f.bt ? 0.3 : false,
    symbol: 'circle', symbolSize: f.thick ? 2.6 : (f.bt ? 2.4 : 2.2), showSymbol: true,
    lineStyle: {color: INK, width: f.thick ? 1.5 : (f.bt ? 1.1 : 0.9)},
    itemStyle: {color: '#1e1e1e'}, z: 4
  }));
  // labelled periods with their marker ticks
  series.push(Object.assign({}, base, {
    type: 'scatter', symbol: 'rect', z: 5,
    itemStyle: {color: '#333'},
    label: {show: true, position: 'top', distance: 1, fontSize: 14, color: '#111', fontFamily: FONT},
    data: d.peaks.map(p => {
      const len = p[4] === undefined ? 6 : p[4];
      return {
        value: [p[0], p[1]],
        symbolSize: [1, Math.max(len, 0.01)],
        symbolOffset: [0, -(len / 2 + 2)],
        label: {formatter: p[2], fontWeight: p[3] ? 'bold' : 'normal', offset: [p[5] || 0, p[6] || 0]}
      };
    })
  }));
  // bandwidth bar
  const bwY = Math.pow(10, f.lo + (f.hi - f.lo) * (f.bwY || 11) / h);
  series.push(Object.assign({}, base, {
    type: 'line', data: [[f.bw[0], bwY], [f.bw[1], bwY]], symbol: 'none',
    lineStyle: {color: '#444', width: 1}, z: 4
  }));
  series.push(Object.assign({}, base, {
    type: 'scatter', symbolSize: 0, z: 4,
    data: [[(f.bw[0] + f.bw[1]) / 2, bwY]],
    label: {show: true, position: 'bottom', distance: 1, formatter: 'BW', fontSize: 9.5, color: '#444', fontFamily: FONT}
  }));
});

// ---------- titles, row names, legend ----------
function txt(x, y, text, o) {
  return {
    type: 'text', x: x, y: y, silent: true,
    style: Object.assign({
      text: text, fontFamily: FONT, fontSize: 16, fill: '#111',
      align: 'center', verticalAlign: 'middle', textAlign: 'center', textVerticalAlign: 'middle'
    }, o || {})
  };
}
const graphics = [
  txt(214, 21, '{t|PLANKTIC }{d|δ}{s|18}{t|O}', {rich: {
    t: {fontSize: 25, fontWeight: 'bold', fontFamily: FONT, fill: '#111'},
    d: {fontSize: 25, fontFamily: '"DejaVu Serif", serif', fill: '#111'},
    s: {fontSize: 11, fontWeight: 'bold', fontFamily: FONT, fill: '#111', verticalAlign: 'top'}
  }}),
  txt(634, 21, 'SST', {fontSize: 25, fontWeight: 'bold'}),
  txt(1095, 21, 'MAGNETIC SUSCEPTIBILITY', {fontSize: 25, fontWeight: 'bold'}),

  txt(116, 51, 'REDFIT', {fontStyle: 'italic'}),
  txt(331, 51, 'Blackman-Tukey method', {fontStyle: 'italic', fontSize: 15}),
  txt(528, 53, 'REDFIT', {fontStyle: 'italic'}),
  txt(759, 54, 'Blackman-Tukey method', {fontStyle: 'italic', fontSize: 15}),
  txt(978, 53, 'REDFIT', {fontStyle: 'italic'}),
  txt(1193, 52, 'Blackman-Tukey method', {fontStyle: 'italic', fontSize: 15}),

  txt(11, 76, 'POWER', {align: 'left', textAlign: 'left'}),
  txt(877, 73, 'POWER', {align: 'left', textAlign: 'left'}),

  txt(633, 140, '104', {fontSize: 24, fontWeight: 'bold'}),
  txt(632, 271, 'G1', {fontSize: 24, fontWeight: 'bold'}),
  txt(633, 408, 'G6', {fontSize: 24, fontWeight: 'bold'}),
  txt(637, 593, 'G14', {fontSize: 24, fontWeight: 'bold'}),
  txt(637, 753, 'G15', {fontSize: 24, fontWeight: 'bold'}),
  txt(640, 890, 'G20:', {fontSize: 24, fontWeight: 'bold'}),
  {type: 'rect', silent: true, shape: {x: 611, y: 251, width: 42, height: 39}, style: {fill: 'none', stroke: '#111', lineWidth: 1.5}},
  {type: 'rect', silent: true, shape: {x: 609, y: 733, width: 57, height: 40}, style: {fill: 'none', stroke: '#111', lineWidth: 1.5}},

  // onset of NHG
  {type: 'line', silent: true, shape: {x1: 35, y1: 666, x2: 184, y2: 666}, style: {stroke: '#111', lineWidth: 1.5}},
  {type: 'polygon', silent: true, shape: {points: [[180, 661], [192, 666], [180, 671]]}, style: {fill: '#111'}},
  {type: 'line', silent: true, shape: {x1: 1142, y1: 665, x2: 1276, y2: 665}, style: {stroke: '#111', lineWidth: 1.5}},
  {type: 'polygon', silent: true, shape: {points: [[1146, 660], [1134, 665], [1146, 670]]}, style: {fill: '#111'}},
  ...[['O', 221], ['N', 300], ['S', 377], ['E', 453], ['T', 530], ['O', 677], ['F', 754], ['N', 901], ['H', 979], ['G', 1056]]
    .map(([c, x]) => txt(x, 667, c, {fontWeight: 'bold', fontSize: 16})),

  // G20 legend
  {type: 'line', silent: true, shape: {x1: 676, y1: 883, x2: 688, y2: 883}, style: {stroke: '#333', lineWidth: 1}},
  {type: 'circle', silent: true, shape: {cx: 682, cy: 883, r: 1.3}, style: {fill: '#333'}},
  txt(689, 882, 'upper MIS G20', {align: 'left', textAlign: 'left', fontSize: 10, fill: '#444'}),
  {type: 'line', silent: true, shape: {x1: 676, y1: 902, x2: 688, y2: 902}, style: {stroke: '#777', lineWidth: 1, lineDash: [1.5, 1.5]}},
  txt(689, 902, 'lower MIS G20', {align: 'left', textAlign: 'left', fontSize: 10, fill: '#444'}),

  // bottom legend
  {type: 'line', silent: true, shape: {x1: 452, y1: 991, x2: 518, y2: 991}, style: {stroke: '#333', lineWidth: 1}},
  {type: 'circle', silent: true, shape: {cx: 485, cy: 991, r: 2}, style: {fill: '#333'}},
  txt(527, 991, 'spectrum', {align: 'left', textAlign: 'left', fontSize: 14, fill: '#333'}),
  {type: 'line', silent: true, shape: {x1: 685, y1: 971, x2: 755, y2: 971}, style: {stroke: ORANGE, lineWidth: 3}},
  txt(760, 972, '{o|95%-chi}{s|2}', {align: 'left', textAlign: 'left', rich: {
    o: {fontSize: 14, fill: ORANGE, fontFamily: FONT},
    s: {fontSize: 8, fill: ORANGE, fontFamily: FONT, verticalAlign: 'top'}
  }}),
  {type: 'line', silent: true, shape: {x1: 685, y1: 991, x2: 755, y2: 991}, style: {stroke: RED, lineWidth: 4.5}},
  txt(760, 992, 'red noise', {align: 'left', textAlign: 'left', fontSize: 14, fill: RED}),

  txt(218, 992, '{a|FREQUENCY (kyr}{s|-1}{a|)}', {rich: {
    a: {fontSize: 16, fill: '#111', fontFamily: FONT},
    s: {fontSize: 9, fill: '#111', fontFamily: FONT, verticalAlign: 'top'}
  }}),
  txt(1095, 992, '{a|FREQUENCY (kyr}{s|-1}{a|)}', {rich: {
    a: {fontSize: 16, fill: '#111', fontFamily: FONT},
    s: {fontSize: 9, fill: '#111', fontFamily: FONT, verticalAlign: 'top'}
  }})
];

const chart = echarts.init(document.getElementById('chart'), null, {renderer: 'canvas'});
chart.setOption({
  backgroundColor: '#ffffff',
  animation: false,
  textStyle: {fontFamily: FONT},
  grid: grid, xAxis: xAxis, yAxis: yAxis, series: series,
  graphic: graphics
});
</script>
</body>
</html>
